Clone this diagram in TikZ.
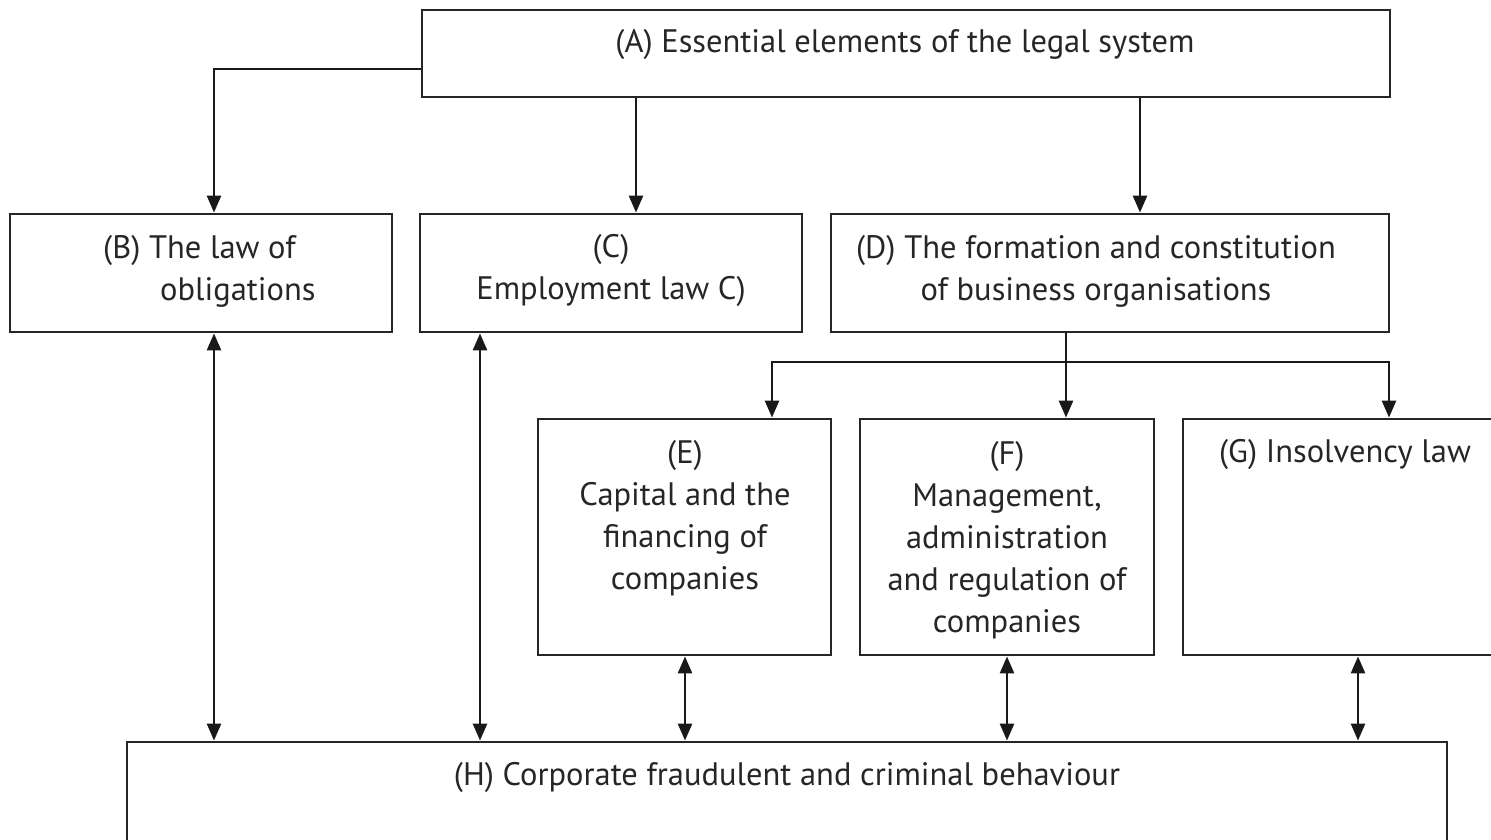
\documentclass[tikz,border=0pt]{standalone}
\usepackage{fontspec}
\setmainfont{PT Sans}
\usetikzlibrary{arrows.meta,calc}
\begin{document}
\begin{tikzpicture}[x=1pt,y=-1pt,
  box/.style={draw=black!85, line width=2.8pt, inner sep=0pt},
  txt/.style={font=\fontsize{32.5}{42}\selectfont, text=black!85, align=center, inner sep=0pt},
  con/.style={draw=black!90, line width=2.6pt, -{Triangle[length=17pt,width=14pt]}},
  bi/.style={draw=black!90, line width=2.6pt, {Triangle[length=17pt,width=14pt]}-{Triangle[length=17pt,width=14pt]}}]
\useasboundingbox (0,0) rectangle (1491,840);
% boxes
\node[box, minimum width=968pt, minimum height=87pt] (A) at (906,53.5) {};
\node[box, minimum width=382pt, minimum height=118pt] (B) at (201,273) {};
\node[box, minimum width=382pt, minimum height=118pt] (C) at (611,273) {};
\node[box, minimum width=558pt, minimum height=118pt] (D) at (1110,273) {};
\node[box, minimum width=293pt, minimum height=236pt] (E) at (684.5,537) {};
\node[box, minimum width=294pt, minimum height=236pt] (F) at (1007,537) {};
\node[box, minimum width=317pt, minimum height=236pt] (G) at (1341.5,537) {};
\node[box, minimum width=1320pt, minimum height=108pt] (H) at (787,796) {};
% texts
\node[txt] (At) at (905,45) {(A) Essential elements of the legal system};
\node[txt, align=left, anchor=west] (Bt) at (103,271) {(B) The law of\\\hspace*{57pt}obligations};
\node[txt] (Ct) at (611,271) {(C)\\Employment law C)};
\node[txt] (Dt) at (1096,271) {(D) The formation and constitution\\of business organisations};
\node[txt] (Et) at (685,518.5) {(E)\\Capital and the\\financing of\\companies};
\node[txt] (Ft) at (1007,540) {(F)\\Management,\\administration\\and regulation of\\companies};
\node[txt] (Gt) at (1345,455) {(G) Insolvency law};
\node[txt] (Ht) at (787,777) {(H) Corporate fraudulent and criminal behaviour};
% connectors from A
\draw[con] ($(A.west)+(0,15.5)$) -| ($(B.north)+(13,0)$);
\draw[con] (A.south -| 636,0) -- (C.north -| 636,0);
\draw[con] (A.south -| 1140,0) -- (D.north -| 1140,0);
% from D
\coordinate (split) at (1066,362);
\draw[con] (D.south -| split) -- (F.north -| split);
\draw[con] (split) -| (E.north -| 772,0);
\draw[con] (split) -| (G.north -| 1389,0);
% to H
\draw[bi] (B.south -| 214,0) -- (H.north -| 214,0);
\draw[bi] (C.south -| 480,0) -- (H.north -| 480,0);
\draw[bi] (E.south -| 685,0) -- (H.north -| 685,0);
\draw[bi] (F.south -| 1007,0) -- (H.north -| 1007,0);
\draw[bi] (G.south -| 1358,0) -- (H.north -| 1358,0);
\end{tikzpicture}
\end{document}
